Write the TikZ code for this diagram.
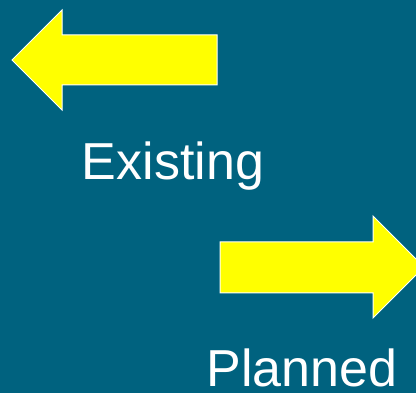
\documentclass[tikz,border=0pt]{standalone}
\usepackage{fontspec}
\setmainfont{Liberation Sans}
\definecolor{slidebg}{HTML}{00627F}
\definecolor{arrowfill}{HTML}{FFFF00}
\begin{document}
\begin{tikzpicture}[x=1pt, y=-1pt, arrowshape/.style={draw=white, fill=arrowfill, line width=1pt}, caption/.style={text=white, font=\fontsize{52}{62}\selectfont, anchor=base, inner sep=0pt, text depth=0pt}]
      \useasboundingbox (0,0) rectangle (416,393);
      \clip (0,0) rectangle (416,393);
      \fill[slidebg] (0,0) rectangle (416,393);
      % existing: arrow to the left
      \draw[arrowshape] (12,60) -- (62,10) -- (62,35) -- (217,35) -- (217,85) -- (62,85) -- (62,110) -- cycle;
      % planned: arrow to the right
      \draw[arrowshape] (424,267) -- (373,216) -- (373,242) -- (220,242) -- (220,293) -- (373,293) -- (373,318) -- cycle;
      \node[caption] (existing) at (173,180) {Existing};
      \node[caption] (planned) at (302,387) {Planned};
    \end{tikzpicture}
\end{document}
